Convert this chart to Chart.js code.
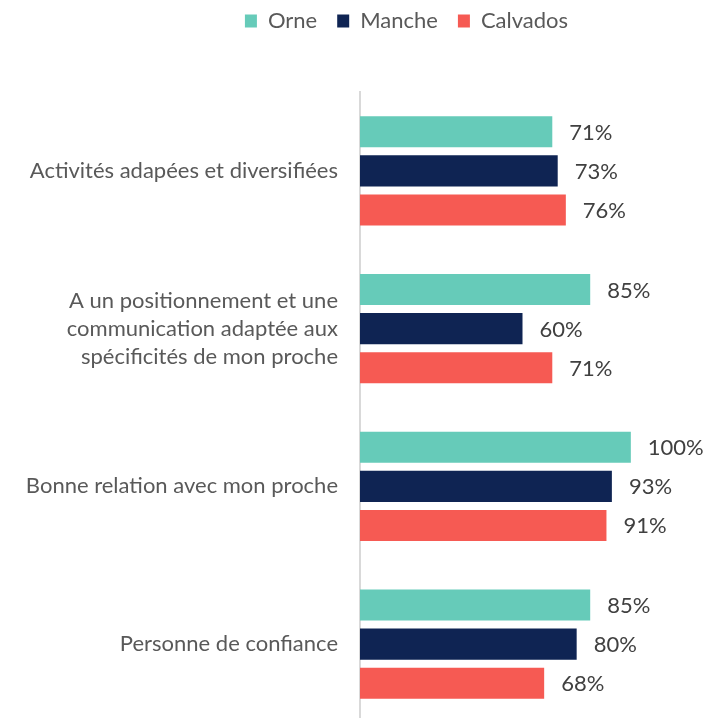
<!DOCTYPE html>
<html>
<head>
<meta charset="utf-8">
<script src="https://cdn.jsdelivr.net/npm/chart.js@4.4.0/dist/chart.umd.min.js"></script>
<style>
  html, body { margin: 0; padding: 0; background: #fff; overflow: hidden; }
</style>
</head>
<body>
<canvas id="myCanvas" width="705" height="723"></canvas>
<script>
// categories (multi-line ones as arrays)
const categories = [
    "Activités adapées et diversifiées",
    ["A un positionnement et une", "communication adaptée aux", "spécificités de mon proche"],
    "Bonne relation avec mon proche",
    "Personne de confiance"
];
const seriesNames = ["Orne", "Manche", "Calvados"];
const orne = [71, 85, 100, 85];
const manche = [73, 60, 93, 80];
const calvados = [76, 71, 91, 68];
const colors = ['#66CBB9', '#0F2453', '#F65A53'];

const FONT = "Lato, 'Open Sans', sans-serif";

// petit plugin pour écrire les pourcentages à droite des barres
const etichette = {
    id: 'etichette',
    afterDatasetsDraw(chart) {
        const ctx = chart.ctx;
        ctx.save();
        ctx.font = "22px " + FONT;
        ctx.fillStyle = '#404040';
        ctx.textAlign = 'left';
        ctx.textBaseline = 'middle';
        chart.data.datasets.forEach(function(ds, i) {
            const meta = chart.getDatasetMeta(i);
            meta.data.forEach(function(bar, j) {
                ctx.fillText(ds.data[j] + '%', bar.x + 17, bar.y + 1);
            });
        });
        ctx.restore();
    }
};

// hauteur fixe pour la légende, et petit décalage comme dans l'original
const legendaFissa = {
    id: 'legendaFissa',
    beforeInit(chart) {
        const leg = chart.legend;
        const origFit = leg.fit;
        leg.fit = function() {
            origFit.call(leg);
            leg.height = 92;
        };
    },
    afterLayout(chart) {
        const leg = chart.legend;
        leg.top -= 10;
        leg.bottom -= 10;
        leg.left += 64;
        leg.right += 64;
    }
};

const dataChart = {
    labels: categories,
    datasets: [
        { label: seriesNames[0], data: orne, backgroundColor: colors[0] },
        { label: seriesNames[1], data: manche, backgroundColor: colors[1] },
        { label: seriesNames[2], data: calvados, backgroundColor: colors[2] }
    ]
};

const config = {
    type: 'bar',
    data: dataChart,
    options: {
        indexAxis: 'y',
        responsive: false,
        animation: false,
        categoryPercentage: 0.742,
        barPercentage: 0.795,
        layout: { padding: { top: 0, right: 20, left: 0, bottom: 0 } },
        plugins: {
            legend: {
                position: 'top',
                labels: {
                    boxWidth: 12,
                    boxHeight: 13,
                    color: '#595959',
                    font: { family: FONT, size: 22 },
                    padding: 20
                }
            },
            tooltip: { enabled: false }
        },
        scales: {
            x: {
                display: false,
                min: 0,
                max: 120
            },
            y: {
                grid: { display: true, color: 'rgba(0,0,0,0)', drawTicks: false },
                border: { display: true, color: '#d9d9d9', width: 2 },
                ticks: {
                    color: '#595959',
                    font: { family: FONT, size: 22, lineHeight: 1.27 },
                    padding: 22
                },
                afterFit: function(scale) {
                    scale.width = 360;
                    scale.paddingTop = 0;
                    scale.paddingBottom = 0;
                }
            }
        }
    },
    plugins: [etichette, legendaFissa]
};

const chart = new Chart(document.getElementById('myCanvas'), config);
</script>
</body>
</html>
